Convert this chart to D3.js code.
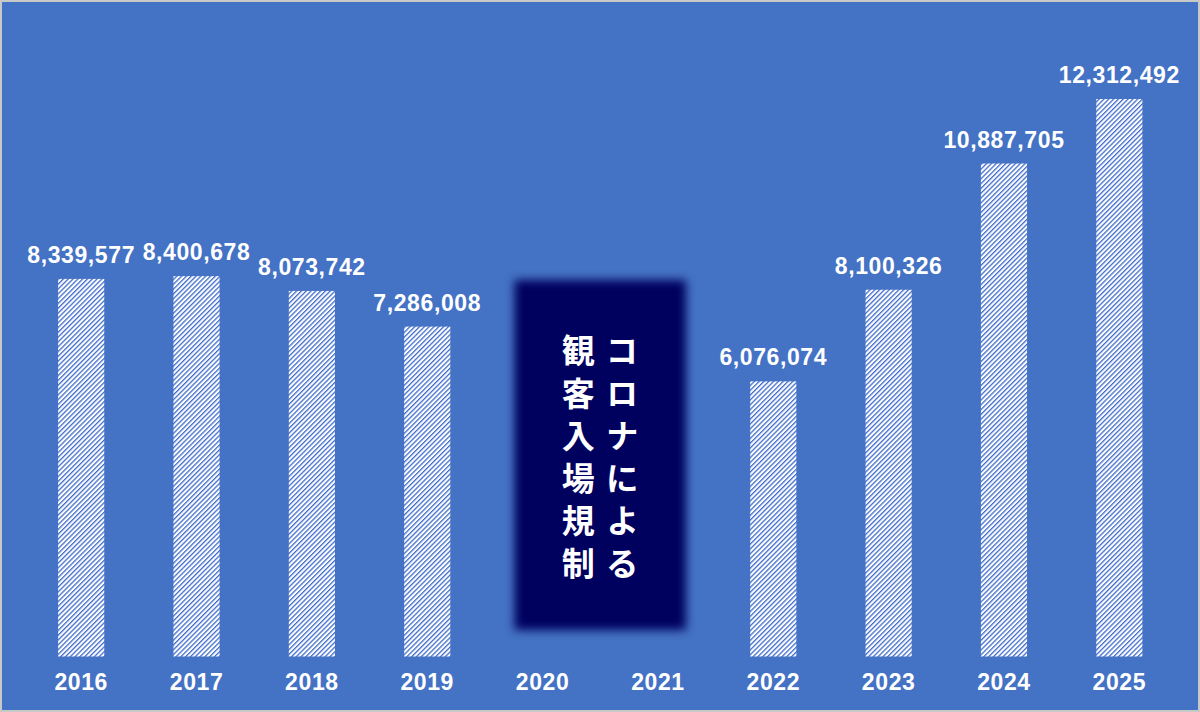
<!DOCTYPE html>
<html><head><meta charset="utf-8">
<script src="https://cdn.jsdelivr.net/npm/d3@7"></script>
<style>body{margin:0;background:#fff}svg{display:block}</style>
</head><body>
<script>
const years = ["2016","2017","2018","2019","2020","2021","2022","2023","2024","2025"];
const attendance = [8339577, 8400678, 8073742, 7286008, null, null, 6076074, 8100326, 10887705, 12312492];
const noteColumns = ["コロナによる", "観客入場規制"];
const noteYears = ["2020","2021"];

const W = 1200, H = 712;
const svg = d3.select("body").append("svg").attr("width", W).attr("height", H);
const defs = svg.append("defs");
const pat = defs.append("pattern").attr("id","hatch").attr("patternUnits","userSpaceOnUse")
  .attr("width",3.4).attr("height",3.4).attr("patternTransform","rotate(45)");
pat.append("rect").attr("width",3.4).attr("height",3.4).attr("fill","#ffffff");
pat.append("rect").attr("x",0).attr("y",0).attr("width",1.3).attr("height",3.4)
  .attr("fill","#3f6ccc");
const blur = defs.append("filter").attr("id","blur").attr("x","-20%").attr("y","-20%").attr("width","140%").attr("height","140%");
blur.append("feGaussianBlur").attr("stdDeviation",5);

svg.append("rect").attr("x",1).attr("y",1).attr("width",W-2).attr("height",H-2)
  .attr("fill","#4472c4").attr("stroke","#c8c8c8").attr("stroke-width",2);

const x = d3.scaleBand().domain(years).range([23.5, 1177]).paddingInner(0.6).paddingOuter(0.3);
const y = d3.scaleLinear().domain([0, 12312492]).range([656.5, 99]);

const font = "'Liberation Sans', Arial, sans-serif";
const rows = years.map((d,i)=>({year:d,v:attendance[i]})).filter(d=>d.v!=null);

// bars
svg.append("g").selectAll("rect").data(rows)
  .join("rect")
  .attr("x", d=>x(d.year)).attr("width", x.bandwidth())
  .attr("y", d=>y(d.v)).attr("height", d=>y(0)-y(d.v))
  .attr("fill","url(#hatch)");

// value labels
svg.append("g").selectAll("text").data(rows)
  .join("text")
  .attr("x", d=>x(d.year)+x.bandwidth()/2).attr("y", d=>y(d.v)-16)
  .attr("text-anchor","middle").attr("fill","#fff")
  .attr("font-family",font).attr("font-weight","bold").attr("font-size",23)
  .attr("letter-spacing","0.6")
  .text(d=>d3.format(",")(d.v));

// x axis labels
const xAxis = d3.axisBottom(x).tickSize(0).tickPadding(0);
const gx = svg.append("g").attr("transform","translate(0,674)").call(xAxis);
gx.select(".domain").remove();
gx.selectAll("text").attr("fill","#fff").attr("font-family",font).attr("font-weight","bold")
  .attr("font-size",23).attr("letter-spacing","0.6").attr("dy","0.71em");

// covid box
const bx0 = x(noteYears[0]) - 5, bx1 = x(noteYears[1]) + x.bandwidth() + 5;
svg.append("rect").attr("x",bx0).attr("y",280).attr("width",bx1-bx0).attr("height",350)
  .attr("fill","#00005e").attr("filter","url(#blur)");
const cx = (bx0+bx1)/2;
const jp = "'Noto Sans CJK JP', sans-serif";
svg.append("g").selectAll("text").data(noteColumns).join("text")
  .attr("x", (d,i)=> cx + (i===0 ? 22 : -22)).attr("y", 334)
  .style("writing-mode","vertical-rl").style("text-orientation","upright")
  .attr("letter-spacing","9.6")
  .attr("fill","#fff").attr("font-family",jp).attr("font-weight","bold")
  .attr("font-size",33).text(d=>d);
</script>
</body></html>
